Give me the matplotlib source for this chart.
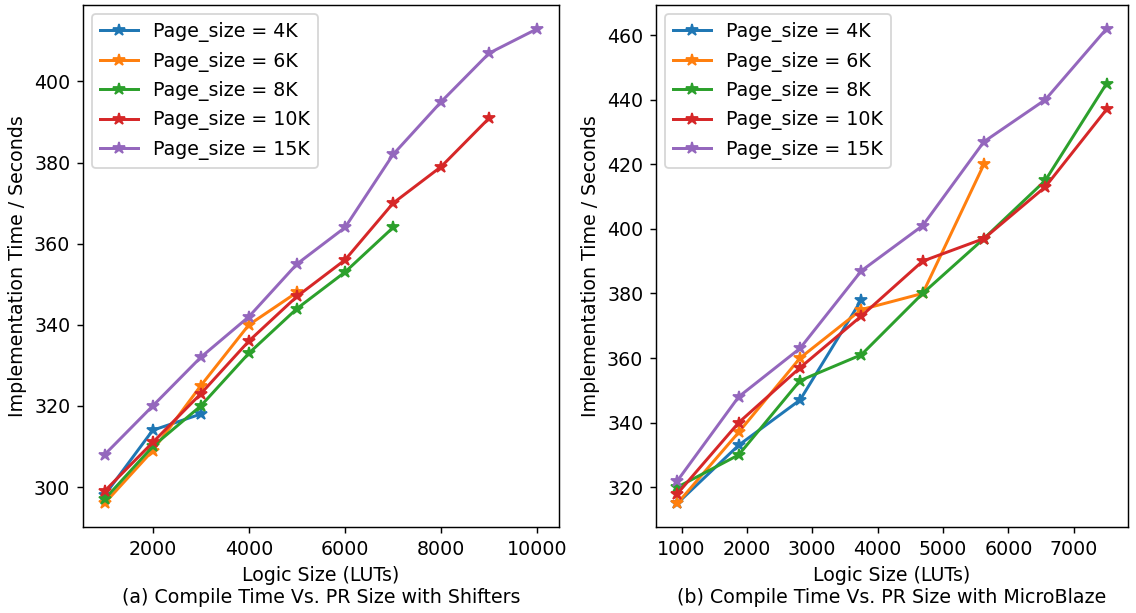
import matplotlib
matplotlib.use("Agg")
import matplotlib.pyplot as plt
from matplotlib.ticker import MultipleLocator

# (a) shifters
luts_a = [1000, 2000, 3000, 4000, 5000, 6000, 7000, 8000, 9000, 10000]
a_4k = [298, 314, 318]
a_6k = [296, 309, 325, 340, 348]
a_8k = [297, 310, 320, 333, 344, 353, 364]
a_10k = [299, 311, 323, 336, 347, 356, 370, 379, 391]
a_15k = [308, 320, 332, 342, 355, 364, 382, 395, 407, 413]

# (b) microblaze
luts_b = [938, 1875, 2813, 3750, 4688, 5625, 6563, 7500]
b_4k = [315, 333, 347, 378]
b_6k = [315, 337, 360, 375, 380, 420]
b_8k = [320, 330, 353, 361, 380, 397, 415, 445]
b_10k = [318, 340, 357, 373, 390, 397, 413, 437]
b_15k = [322, 348, 363, 387, 401, 427, 440, 462]

labels = ['Page_size = 4K', 'Page_size = 6K', 'Page_size = 8K',
          'Page_size = 10K', 'Page_size = 15K']

plt.rcParams['font.size'] = 10.5
plt.rcParams['lines.linewidth'] = 1.65
plt.rcParams['lines.markersize'] = 6.8

fig = plt.figure(figsize=(1136/130, 613/130), dpi=130)
ax1 = fig.add_axes([83/1136, 86/613, 476/1136, 522/613])
ax2 = fig.add_axes([656/1136, 86/613, 472/1136, 522/613])

for ys, lab in zip([a_4k, a_6k, a_8k, a_10k, a_15k], labels):
    ax1.plot(luts_a[:len(ys)], ys, marker='*', label=lab)
for ys, lab in zip([b_4k, b_6k, b_8k, b_10k, b_15k], labels):
    ax2.plot(luts_b[:len(ys)], ys, marker='*', label=lab)

ax2.xaxis.set_major_locator(MultipleLocator(1000))

ax1.set_xlabel('Logic Size (LUTs)\n(a) Compile Time Vs. PR Size with Shifters')
ax2.set_xlabel('Logic Size (LUTs)\n(b) Compile Time Vs. PR Size with MicroBlaze')
ax1.set_ylabel('Implementation Time / Seconds')
ax2.set_ylabel('Implementation Time / Seconds')
ax1.legend(loc='upper left')
ax2.legend(loc='upper left')

fig.savefig('out.png', dpi=130)
